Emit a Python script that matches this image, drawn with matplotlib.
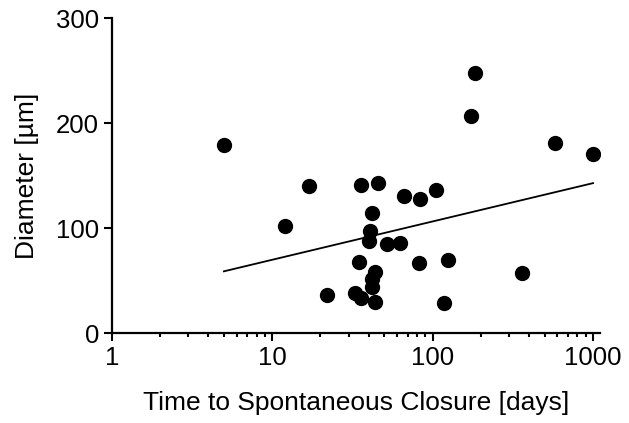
import matplotlib
matplotlib.use('Agg')
import matplotlib.pyplot as plt
import numpy as np
from matplotlib.ticker import LogLocator, FixedLocator, NullFormatter

plt.rcParams['font.family'] = ['Liberation Sans', 'DejaVu Sans']

# Data
days = [5, 12, 17, 22, 33, 36, 35, 36, 46, 42, 41, 40, 44, 42, 42, 44, 52, 63,
        66, 84, 82, 105, 118, 124, 174, 185, 359, 578, 1000]
diameter = [179, 102, 140, 36, 38, 34, 68, 141, 143, 115, 97, 88, 58, 52, 44,
            30, 85, 86, 131, 128, 67, 136, 29, 70, 207, 248, 57, 181, 171]

# regression line as drawn in the chart (semi-log fit, end points)
fit_days = [5, 1000]
fit_diameter = [59, 143]

x_ticks = [1, 10, 100, 1000]
x_tick_labels = ['1', '10', '100', '1000']
y_ticks = [0, 100, 200, 300]

fig = plt.figure(figsize=(6.29, 4.23), dpi=100)
ax = fig.add_axes([0.1776, 0.2121, 0.7763, 0.7447])

ax.plot(fit_days, fit_diameter, color='black', lw=1.3, zorder=2)
ax.plot(days, diameter, 'o', color='black', markersize=10, zorder=3)

ax.set_xscale('log')
ax.set_xlim(1, 1105)
ax.set_ylim(0, 300)
ax.xaxis.set_major_locator(FixedLocator(x_ticks))
ax.set_xticklabels(x_tick_labels)
ax.xaxis.set_minor_locator(LogLocator(base=10, subs=np.arange(2, 10), numticks=20))
ax.xaxis.set_minor_formatter(NullFormatter())
ax.set_yticks(y_ticks)

for s in ['top', 'right']:
    ax.spines[s].set_visible(False)
for s in ['left', 'bottom']:
    ax.spines[s].set_linewidth(1.6)

ax.tick_params(axis='both', which='major', direction='out', length=6, width=1.5,
               labelsize=18.5, pad=3)
ax.tick_params(axis='x', which='minor', direction='out', length=3, width=1.5)

ax.set_xlabel('Time to Spontaneous Closure [days]', fontsize=19, labelpad=15)
ax.set_ylabel('Diameter [µm]', fontsize=19, labelpad=12)

plt.savefig('out.png', dpi=100)
plt.close()
